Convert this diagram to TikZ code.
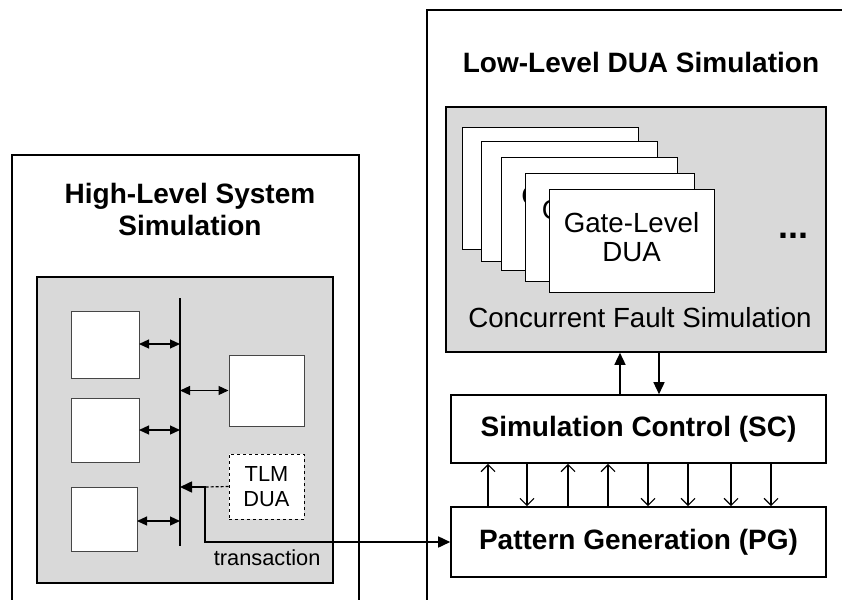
\documentclass[tikz,border=0pt]{standalone}
\usepackage{fontspec}
\setmainfont{Liberation Sans}
\usetikzlibrary{arrows.meta,calc}
\definecolor{panelgray}{RGB}{217,217,217}
\definecolor{edgegray}{RGB}{70,70,70}
\tikzset{
  frame/.style={draw=black,line width=1.6pt,inner sep=0pt},
  panel/.style={draw=black,line width=1.6pt,fill=panelgray,inner sep=0pt},
  unitbox/.style={draw=edgegray,line width=1pt,fill=white,inner sep=0pt},
  card/.style={draw=black,line width=0.9pt,fill=white,inner sep=0pt,align=center,
    font=\fontsize{27.7}{31.5}\selectfont},
  ctrlbox/.style={draw=black,line width=1.6pt,fill=white,inner sep=0pt,
    font=\fontsize{28}{32}\selectfont\bfseries},
  title/.style={align=center,font=\fontsize{28}{32}\selectfont\bfseries},
  label/.style={font=\fontsize{27.7}{31.5}\selectfont},
  small/.style={font=\fontsize{21.8}{25}\selectfont,align=center},
  busarrow/.style={line width=1.2pt,{Triangle[length=10pt,width=9pt]}-{Triangle[length=10pt,width=9pt]}},
  fillarrow/.style={line width=1.5pt,-{Triangle[length=12pt,width=11pt]}},
  openarrow/.style={line width=1.2pt,-{Straight Barb[length=7pt,width=14pt]}},
}
\newcommand{\boxat}[6]{% name, style, x1, y1, x2, y2
  \node[#2,minimum width={(#5-#3)*1pt},minimum height={(#6-#4)*1pt}] (#1) at ({(#3+#5)/2},{(#4+#6)/2}) {};}
\newcommand{\gatecard}[5]{% name, x1, y1, x2, y2
  \boxat{#1}{card}{#2}{#3}{#4}{#5}
  \node[label] (#1text) at (#1) {\begin{tabular}{@{}c@{}}Gate-Level\\[-3pt]DUA\end{tabular}};}
\begin{document}
\begin{tikzpicture}[x=1pt,y=-1pt]
\useasboundingbox (0,0) rectangle (842,599);
\clip (0,0) rectangle (842,599);

% ---------- high-level system simulation ----------
\boxat{hlframe}{frame}{12}{155}{359}{640}
\node[title] (hltitle) at (190,209) {High-Level System\\Simulation};
\boxat{hlpanel}{panel}{37}{277}{333}{583}
\coordinate (bustop) at (180,298);
\coordinate (busbot) at (180,546);
\draw[line width=1.1pt] (bustop) -- (busbot);

\boxat{u1}{unitbox}{71}{311}{139}{378}
\boxat{u2}{unitbox}{71}{398}{139}{462}
\boxat{u3}{unitbox}{71}{487}{137}{551}
\boxat{u4}{unitbox}{229}{355}{304}{426}
\node[small,draw=black,dashed,line width=0.9pt,fill=white,inner sep=0pt,
      minimum width=75pt,minimum height=65pt] (tlm) at (266.5,486.5) {TLM\\DUA};

% bus connections
\coordinate (p1) at (139,344);
\coordinate (p2) at (139,430);
\coordinate (p3) at (137,521);
\draw[busarrow] (p1) -- (p1 -| bustop);
\draw[busarrow] (p2) -- (p2 -| bustop);
\draw[busarrow] (p3) -- (p3 -| bustop);
\draw[busarrow] (u4.west -| bustop) -- (u4.west);

\coordinate (bend) at (205,487);
\draw[line width=1.2pt,densely dashed] (tlm.west) -- (bend);
\node[small,anchor=base east] (trans) at (324,565) {transaction};

% ---------- low-level DUA simulation ----------
\boxat{llframe}{frame}{427}{10}{860}{640}
\node[title] (lltitle) at (641,62) {Low-Level DUA Simulation};
\boxat{llpanel}{panel}{446}{107}{826}{352}

\gatecard{c1}{462}{127}{638}{249}
\gatecard{c2}{481}{141}{657}{261}
\gatecard{c3}{501}{157}{677}{270}
\gatecard{c4}{525}{173}{694}{281}
\gatecard{c5}{549}{189}{714}{292}

\node[font=\fontsize{36}{40}\selectfont\bfseries] (dots) at (793,236) {...};
\node[label] (cfs) at (640,318) {Concurrent Fault Simulation};

\boxat{sc}{ctrlbox}{451}{395}{826}{463}
\node[ctrlbox,draw=none,fill=none] (sctext) at (sc) {Simulation Control (SC)};
\boxat{pg}{ctrlbox}{451}{507}{826}{577}
\node[ctrlbox,draw=none,fill=none] (pgtext) at (pg) {Pattern Generation (PG)};

% panel <-> simulation control
\draw[fillarrow] (sc.north -| 620,0) -- (llpanel.south -| 620,0);
\draw[fillarrow] (llpanel.south -| 659,0) -- (sc.north -| 659,0);

% simulation control <-> pattern generation
\foreach \x in {488,568,608}
  \draw[openarrow] (pg.north -| \x,0) -- (sc.south -| \x,0);
\foreach \x in {527,648,688,731,771}
  \draw[openarrow] (sc.south -| \x,0) -- (pg.north -| \x,0);

% transaction path from the TLM side to pattern generation
\draw[line width=1.6pt,{Triangle[length=12pt,width=11pt]}-{Triangle[length=12pt,width=11pt]}]
  (bend -| bustop) -- (bend) |- (pg.west);
\end{tikzpicture}
\end{document}
